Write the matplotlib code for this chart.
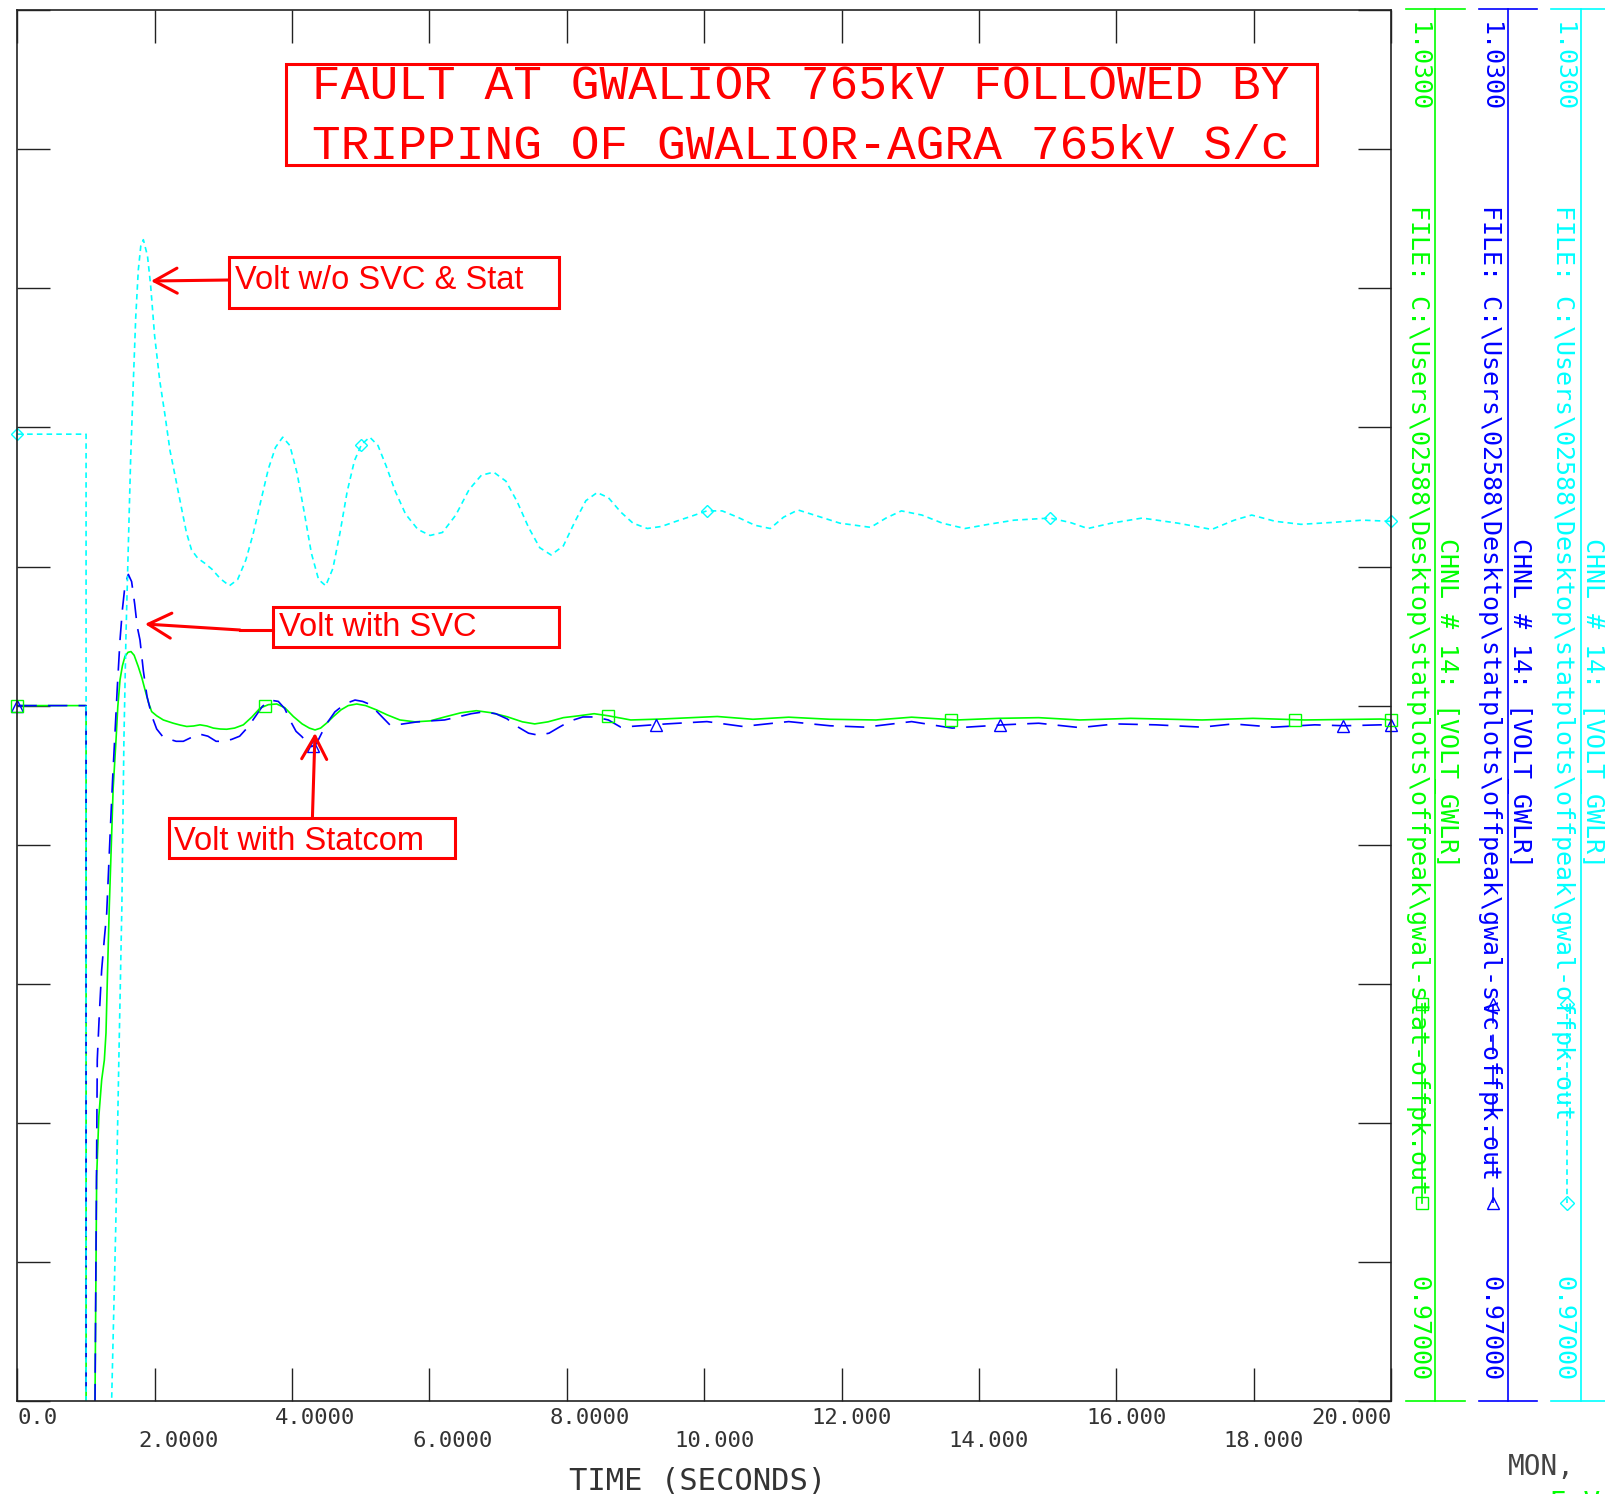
import numpy as np
import matplotlib
matplotlib.use("Agg")
import matplotlib.pyplot as plt
from matplotlib.lines import Line2D
from matplotlib.patches import Rectangle, FancyArrowPatch

plt.rcParams['lines.scale_dashes'] = False

# bus voltage at Gwalior 765kV (pu) vs time (s)
# fault at t = 1.0 s pulls all three channels far below the 0.97 pu floor
t_nosvc = [0.0, 1.0, 1.0, 1.10, 1.30, 1.372, 1.432, 1.477, 1.521, 1.551, 1.581, 1.611,
           1.648, 1.685, 1.723, 1.760, 1.797, 1.834, 1.894, 1.939, 1.998, 2.073, 2.148,
           2.222, 2.312, 2.386, 2.461, 2.535, 2.625, 2.729, 2.834, 2.953, 3.087, 3.207,
           3.326, 3.430, 3.535, 3.654, 3.758, 3.863, 3.967, 4.072, 4.176, 4.280, 4.385,
           4.489, 4.594, 4.698, 4.802, 4.907, 5.011, 5.130, 5.250, 5.369, 5.503, 5.652,
           5.831, 6.010, 6.189, 6.383, 6.577, 6.756, 6.935, 7.114, 7.278, 7.442, 7.606,
           7.770, 7.949, 8.113, 8.277, 8.441, 8.605, 8.785, 8.963, 9.172, 9.381, 9.590,
           9.814, 10.037, 10.261, 10.485, 10.738, 10.962, 11.156, 11.365, 11.603, 11.976,
           12.423, 12.647, 12.871, 13.170, 13.468, 13.796, 14.139, 14.512, 15.034, 15.33,
           15.585, 15.928, 16.376, 16.898, 17.390, 17.718, 17.972, 18.315, 18.688, 19.135,
           19.582, 20.0]
v_nosvc = [1.01171, 1.01171, 0.60, 0.60, 0.950, 0.970, 0.97751, 0.98472, 0.99134, 0.99854,
           1.00305, 1.00645, 1.01056, 1.01374, 1.01675, 1.01878, 1.01984, 1.02010, 1.01940,
           1.01816, 1.01595, 1.01401, 1.01255, 1.01100, 1.00968, 1.00857, 1.00747, 1.00672,
           1.00636, 1.00614, 1.00588, 1.00548, 1.00517, 1.00544, 1.00628, 1.00738, 1.00871,
           1.01021, 1.01114, 1.01158, 1.01122, 1.01003, 1.00835, 1.00658, 1.00544, 1.00517,
           1.00592, 1.00747, 1.00924, 1.01056, 1.01127, 1.01158, 1.01122, 1.01034, 1.00924,
           1.00826, 1.00760, 1.00734, 1.00747, 1.00822, 1.00932, 1.00994, 1.01007, 1.00968,
           1.00879, 1.00769, 1.00681, 1.00650, 1.00689, 1.00791, 1.00884, 1.00919, 1.00897,
           1.00835, 1.00787, 1.00764, 1.00773, 1.00795, 1.00817, 1.00840, 1.00840, 1.00813,
           1.00778, 1.00764, 1.00813, 1.00844, 1.00822, 1.00787, 1.00769, 1.00809, 1.00840,
           1.00822, 1.00787, 1.00764, 1.00782, 1.00800, 1.00809, 1.00790, 1.00764, 1.00787,
           1.00809, 1.00787, 1.00760, 1.00800, 1.00822, 1.00795, 1.00782, 1.00790, 1.00800,
           1.00795]

t_svc = [0.0, 1.0, 1.0, 1.07, 1.10, 1.13, 1.163, 1.193, 1.227, 1.268, 1.300, 1.327, 1.357,
         1.387, 1.421, 1.454, 1.494, 1.529, 1.566, 1.615, 1.663, 1.708, 1.745, 1.785, 1.834,
         1.887, 1.931, 1.979, 2.028, 2.125, 2.222, 2.312, 2.416, 2.535, 2.655, 2.774, 2.893,
         2.998, 3.117, 3.236, 3.356, 3.460, 3.565, 3.678, 3.799, 3.893, 3.967, 4.057, 4.139,
         4.221, 4.285, 4.355, 4.430, 4.519, 4.623, 4.722, 4.817, 4.916, 5.026, 5.135, 5.265,
         5.426, 5.593, 5.802, 6.010, 6.219, 6.413, 6.607, 6.786, 6.965, 7.129, 7.293, 7.442,
         7.591, 7.741, 7.890, 8.054, 8.233, 8.412, 8.605, 8.785, 9.45, 10.04, 10.56, 11.23,
         11.83, 12.35, 13.02, 13.61, 14.35, 14.87, 15.47, 15.99, 16.58, 17.25, 17.70, 18.29,
         18.89, 19.33, 19.85, 20.0]
v_svc = [1.0, 1.0, 0.60, 0.60, 0.955, 0.970, 0.98472, 0.98670, 0.98860, 0.99002, 0.99103,
         0.99289, 0.99492, 0.99687, 0.99881, 1.00075, 1.00283, 1.00415, 1.00517, 1.00566,
         1.00535, 1.00438, 1.00340, 1.00283, 1.00150, 1.00040, 0.99987, 0.99938, 0.99899,
         0.99863, 0.99854, 0.99846, 0.99846, 0.99863, 0.99877, 0.99868, 0.99846, 0.99846,
         0.99854, 0.99868, 0.99907, 0.99951, 0.99996, 1.00024, 1.00018, 0.99987, 0.99938,
         0.99889, 0.99867, 0.99841, 0.99823, 0.99836, 0.99881, 0.99929, 0.99973, 0.99996,
         1.00013, 1.00024, 1.00018, 1.00005, 0.99965, 0.99916, 0.99920, 0.99929, 0.99934,
         0.99938, 0.99951, 0.99965, 0.99973, 0.99965, 0.99943, 0.99907, 0.99881, 0.99872,
         0.99881, 0.99907, 0.99934, 0.99951, 0.99951, 0.99938, 0.99907, 0.99921, 0.99931,
         0.99910, 0.99931, 0.99913, 0.99907, 0.99931, 0.99903, 0.99917, 0.99924, 0.99905,
         0.99921, 0.99917, 0.99907, 0.99921, 0.99907, 0.99917, 0.99913, 0.99917, 0.99915]

t_stat = [0.0, 1.0, 1.0, 1.07, 1.10, 1.13, 1.154, 1.186, 1.227, 1.266, 1.290, 1.312, 1.338,
          1.365, 1.394, 1.436, 1.462, 1.494, 1.529, 1.566, 1.611, 1.654, 1.700, 1.760, 1.812,
          1.858, 1.909, 1.955, 2.028, 2.125, 2.270, 2.371, 2.465, 2.565, 2.659, 2.759, 2.853,
          2.953, 3.047, 3.162, 3.290, 3.415, 3.533, 3.654, 3.775, 3.893, 4.018, 4.146, 4.251,
          4.334, 4.415, 4.504, 4.601, 4.713, 4.817, 4.940, 5.071, 5.232, 5.384, 5.570, 5.787,
          6.010, 6.234, 6.458, 6.682, 6.905, 7.129, 7.353, 7.532, 7.726, 7.949, 8.173, 8.397,
          8.605, 8.93, 9.37, 10.19, 10.71, 11.23, 11.83, 12.50, 13.02, 13.68, 14.28, 14.87,
          15.47, 16.21, 17.25, 17.99, 18.74, 19.85, 20.0]
v_stat = [1.0, 1.0, 0.60, 0.60, 0.95, 0.970, 0.97968, 0.98229, 0.98385, 0.98471, 0.98588,
          0.98847, 0.99134, 0.99377, 0.99642, 0.99852, 0.99996, 1.00111, 1.00172, 1.00212,
          1.00230, 1.00233, 1.00217, 1.00168, 1.00120, 1.00068, 1.00013, 0.99974, 0.99956,
          0.99938, 0.99924, 0.99916, 0.99910, 0.99912, 0.99917, 0.99912, 0.99903, 0.99899,
          0.99898, 0.99903, 0.99917, 0.99951, 0.99989, 1.00004, 1.00007, 0.99991, 0.99953,
          0.99921, 0.99903, 0.99895, 0.99903, 0.99925, 0.99953, 0.99982, 1.00000, 1.00007,
          1.00000, 0.99981, 0.99960, 0.99938, 0.99930, 0.99934, 0.99952, 0.99969, 0.99978,
          0.99969, 0.99952, 0.99930, 0.99921, 0.99930, 0.99948, 0.99956, 0.99965, 0.99956,
          0.99938, 0.99942, 0.99953, 0.99941, 0.99950, 0.99941, 0.99938, 0.99950, 0.99938,
          0.99945, 0.99948, 0.99938, 0.99945, 0.99938, 0.99945, 0.99938, 0.99942, 0.99938]

# where PSS/E put the channel symbols
mark_nosvc = [0.0, 5.01, 10.04, 15.03, 20.0]
mark_svc = [0.0, 4.3, 9.3, 14.3, 19.3, 20.0]
mark_stat = [0.0, 3.6, 8.6, 13.6, 18.6, 20.0]

x_ticks = [0, 2, 4, 6, 8, 10, 12, 14, 16, 18, 20]
x_labels = ['0.0', '2.0000', '4.0000', '6.0000', '8.0000', '10.000', '12.000', '14.000',
            '16.000', '18.000', '20.000']
y_ticks = [0.970, 0.976, 0.982, 0.988, 0.994, 1.000, 1.006, 1.012, 1.018, 1.024, 1.030]

W, H = 1606, 1494
MONO = 'DejaVu Sans Mono'


def fx(px):
    return px / W


def fy(py):
    return 1 - py / H


fig = plt.figure(figsize=(W / 100, H / 100), dpi=100)
ax = fig.add_axes([fx(17.4), fy(1401), fx(1391) - fx(17.4), fy(10.2) - fy(1401)])

ax.plot(t_stat, v_stat, color='#00ff00', lw=1.2)
ax.plot(t_svc, v_svc, color='#0000ff', lw=1.2, ls=(0, (14, 8)))
ax.plot(t_nosvc, v_nosvc, color='#00ffff', lw=1.2, ls=(0, (4, 3)))

ax.plot(mark_nosvc, np.interp(mark_nosvc, t_nosvc, v_nosvc), ls='none', marker='D', ms=6,
        mfc='none', mec='#00ffff', mew=1.0, clip_on=False)
ax.plot(mark_svc, np.interp(mark_svc, t_svc, v_svc), ls='none', marker='^', ms=8,
        mfc='none', mec='#0000ff', mew=1.0, clip_on=False)
ax.plot(mark_stat, np.interp(mark_stat, t_stat, v_stat), ls='none', marker='s', ms=8,
        mfc='none', mec='#00ff00', mew=1.0, clip_on=False)

ax.set_xlim(0, 20)
ax.set_ylim(0.97, 1.03)
ax.set_xticks(x_ticks)
ax.set_yticks(y_ticks)
ax.set_xticklabels([])
ax.set_yticklabels([])
ax.tick_params(direction='in', length=24, width=1.0, color='#222222',
               top=True, right=True, bottom=True, left=True)
for s in ax.spines.values():
    s.set_color('#222222')
    s.set_linewidth(1.2)

# decimal-aligned tick labels in two staggered rows
cw = 13.3
for i, (xt, lab) in enumerate(zip(x_ticks, x_labels)):
    row_y = 1417.5 if i % 2 == 0 else 1441
    px = 17.4 + xt * (1391 - 17.4) / 20
    if i == 0:
        left = px
    elif i == len(x_ticks) - 1:
        left = px - len(lab) * cw
    else:
        left = px - (lab.index('.') * cw + 3.5)
    fig.text(fx(left), fy(row_y), lab, ha='left', va='center', family=MONO, size=16,
             color='#333333')
fig.text(fx(698), fy(1482), 'TIME (SECONDS)', ha='center', va='center', family=MONO,
         size=22, color='#333333')

# channel legend columns on the right
cols = [('#00ff00', 1406, 1465, 1435, 1418, 1447, 1421.6, 'gwal-stat-offpk.out', '-', 's'),
        ('#0000ff', 1479, 1537, 1508, 1490, 1520, 1493.3, 'gwal-svc-offpk.out', (0, (14, 8)), '^'),
        ('#00ffff', 1551, 1620, 1581, 1563, 1593, 1567.0, 'gwal-offpk.out', (0, (4, 3)), 'D')]
for c, x0, x1, xv, xt, xc, xm, fname, ls, mk in cols:
    for yy in (9, 1401):
        fig.add_artist(Line2D([fx(x0), fx(x1)], [fy(yy), fy(yy)], color=c, lw=1.2,
                              transform=fig.transFigure))
    fig.add_artist(Line2D([fx(xv), fx(xv)], [fy(9), fy(1401)], color=c, lw=1.2,
                          transform=fig.transFigure))
    fig.text(fx(xt), fy(22.5), '1.0300', rotation=270, ha='center', va='top', family=MONO,
             size=18, color=c)
    fig.text(fx(xt), fy(205), 'FILE: C:\\Users\\02588\\Desktop\\statplots\\offpeak\\' + fname,
             rotation=270, ha='center', va='top', family=MONO, size=18, color=c)
    fig.text(fx(xt), fy(1380.6), '0.97000', rotation=270, ha='center', va='bottom',
             family=MONO, size=18, color=c)
    fig.text(fx(xc), fy(537.7), 'CHNL # 14: [VOLT_GWLR]', rotation=270, ha='center',
             va='top', family=MONO, size=18, color=c)
    fig.add_artist(Line2D([fx(xm), fx(xm)], [fy(1003.7), fy(1203.4)], color=c, lw=1.2, ls=ls,
                          marker=mk, ms=7 if mk == 'D' else 8, mfc='none', mec=c,
                          transform=fig.transFigure))

fig.text(fx(1508), fy(1475), 'MON,', ha='left', va='baseline', family=MONO, size=20,
         color='#444444')
fig.text(fx(1550), fy(1490), 'E V', ha='left', va='top', family=MONO, size=20,
         color='#00ff00')

# title box
RED = '#ff0000'
fig.add_artist(Rectangle((fx(285.7), fy(164.9)), fx(1317.1) - fx(285.7), (164.9 - 63.5) / H,
                         transform=fig.transFigure, fill=False, ec=RED, lw=2.2))
fig.text(fx(312.4), fy(99.3), 'FAULT AT GWALIOR 765kV FOLLOWED BY', ha='left', va='baseline',
         family='Liberation Mono', size=34.5, color=RED)
fig.text(fx(312.4), fy(158.8), 'TRIPPING OF GWALIOR-AGRA 765kV S/c', ha='left',
         va='baseline', family='Liberation Mono', size=34.5, color=RED)

# callouts
boxes = [((229.4, 257, 559.2, 308.3), (235.5, 288.8), 'Volt w/o SVC & Stat'),
         ((273.5, 607.3, 559.2, 647.3), (278.6, 636), 'Volt with SVC'),
         ((169, 818.3, 454.7, 858.3), (174, 850), 'Volt with Statcom')]
for (bx0, by0, bx1, by1), (tx, ty), lab in boxes:
    fig.add_artist(Rectangle((fx(bx0), fy(by1)), fx(bx1) - fx(bx0), (by1 - by0) / H,
                             transform=fig.transFigure, fill=False, ec=RED, lw=2.2))
    fig.text(fx(tx), fy(ty), lab, ha='left', va='baseline', family='Liberation Sans',
             size=23.5, color=RED)

astyle = '->,head_length=0.55,head_width=0.3'
fig.add_artist(Line2D([fx(273.3), fx(240)], [fy(630), fy(630)], color=RED, lw=2.2,
                      transform=fig.transFigure))
arrows = [((229.4, 280), (151, 281)), ((240, 630), (145, 624)), ((312.4, 818.3), (315, 733))]
for (ax0, ay0), (ax1, ay1) in arrows:
    fig.add_artist(FancyArrowPatch((fx(ax0), fy(ay0)), (fx(ax1), fy(ay1)),
                                   transform=fig.transFigure, arrowstyle=astyle,
                                   mutation_scale=30, color=RED, lw=2.2,
                                   shrinkA=0, shrinkB=0))

fig.savefig('out.png', dpi=100)
